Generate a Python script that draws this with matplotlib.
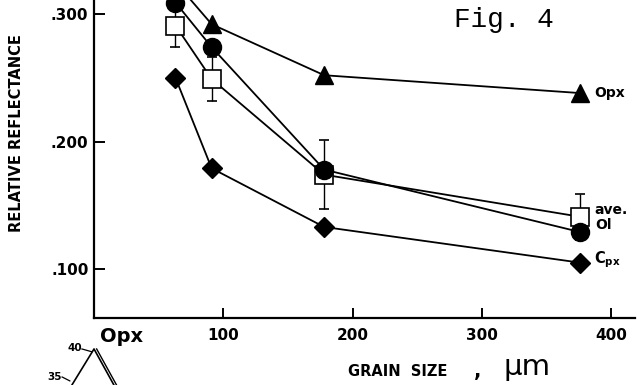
import numpy as np
from matplotlib import pyplot as plt

# grain size (um) and relative reflectance
grain = [63, 91, 178, 376]
opx = [0.325, 0.292, 0.252, 0.238]
ol = [0.309, 0.274, 0.178, 0.129]
ave = [0.291, 0.249, 0.174, 0.141]
ave_err = [0.017, 0.017, 0.027, 0.018]
cpx = [0.250, 0.179, 0.133, 0.105]

xticks = [100, 200, 300, 400]
yticks = [0.100, 0.200, 0.300]
ytick_labels = ['.100', '.200', '.300']

# fragment of the next figure (bottom left corner)
inset_x = [-1.0, 0.0, 0.9]
inset_y = [33.6, 40.0, 33.6]

W, H = 637, 385
fig = plt.figure(figsize=(W / 100, H / 100), dpi=100)
ax = fig.add_axes([94 / W, 1 - 318 / H, (635 - 94) / W, 318 / H])

bold = dict(family='DejaVu Sans', fontweight='bold')

ax.plot(grain, opx, 'k-', lw=1.3, marker='^', ms=13, mfc='k', mec='k', zorder=3)
ax.errorbar(grain, ave, yerr=ave_err, fmt='-', color='k', lw=1.3,
            elinewidth=1.0, capsize=3.5, capthick=1.0,
            marker='s', ms=12.5, mfc='white', mec='k', mew=1.2, zorder=2)
ax.plot(grain, ol, 'k-', lw=1.3, marker='o', ms=13, mfc='k', mec='k', zorder=4)
ax.plot(grain, cpx, 'k-', lw=1.3, marker='D', ms=10.5, mfc='k', mec='k', zorder=3)

ax.set_xlim(0, 418.4)
ax.set_ylim(0.0616, 0.311)
for s in ['top', 'right']:
    ax.spines[s].set_visible(False)
for s in ['left', 'bottom']:
    ax.spines[s].set_linewidth(1.6)

ax.set_xticks(xticks)
ax.set_xticklabels([str(v) for v in xticks], **bold, fontsize=11)
ax.set_yticks(yticks)
ax.set_yticklabels(ytick_labels, **bold, fontsize=11)
ax.tick_params(axis='x', direction='in', length=7, width=1.4, pad=7)
ax.tick_params(axis='y', direction='in', length=8, width=1.4, pad=4)

# series labels at the right end
ax.annotate('Opx', (grain[-1], opx[-1]), xytext=(10, 0), textcoords='offset points',
            va='center', ha='left', fontsize=10, **bold)
ax.annotate('ave.', (grain[-1], ave[-1]), xytext=(10, 5), textcoords='offset points',
            va='center', ha='left', fontsize=10, **bold)
ax.annotate('Ol', (grain[-1], ol[-1]), xytext=(11, 5), textcoords='offset points',
            va='center', ha='left', fontsize=10, **bold)
ax.annotate('C$\\mathbf{_{px}}$', (grain[-1], cpx[-1]), xytext=(10, 2), textcoords='offset points',
            va='center', ha='left', fontsize=10.5, **bold)

fig.text(17 / W, 1 - 133 / H, 'RELATIVE REFLECTANCE', rotation=90,
         ha='center', va='center', fontsize=10.5, **bold)
fig.text(398 / W, 1 - 371 / H, 'GRAIN  SIZE', ha='center', va='center',
         fontsize=10.5, **bold)
fig.text(478 / W, 1 - 371 / H, ',', ha='center', va='center', fontsize=14, **bold)
fig.text(527 / W, 1 - 367 / H, '\u00b5m', ha='center', va='center', fontsize=21,
         family='DejaVu Sans')
fig.text(504 / W, 1 - 20 / H, 'Fig. 4', ha='center', va='center', fontsize=20,
         family='Liberation Mono')

# piece of the next panel
fig.text(100 / W, 1 - 337 / H, 'Opx', ha='left', va='center', fontsize=14, **bold)
ins = fig.add_axes([30 / W, 0, 130 / W, 45 / H])
ins.set_axis_off()
ins.plot(inset_x, inset_y, 'k-', lw=1.2)
ins.plot(np.array(inset_x[1:]) + 0.12, inset_y[1:], 'k-', lw=1.0)
ins.set_xlim(-2.91, 3.0)
ins.set_ylim(33.57, 41.6)
ins.text(-0.55, 40.1, '40', ha='right', va='center', fontsize=7.5, **bold)
ins.plot([-0.55, -0.1], [40.0, 39.5], 'k-', lw=0.9)
ins.text(-1.45, 35.0, '35', ha='right', va='center', fontsize=7.5, **bold)
ins.plot([-1.45, -1.1], [35.0, 34.3], 'k-', lw=0.9)

fig.savefig('out.png', dpi=100)
